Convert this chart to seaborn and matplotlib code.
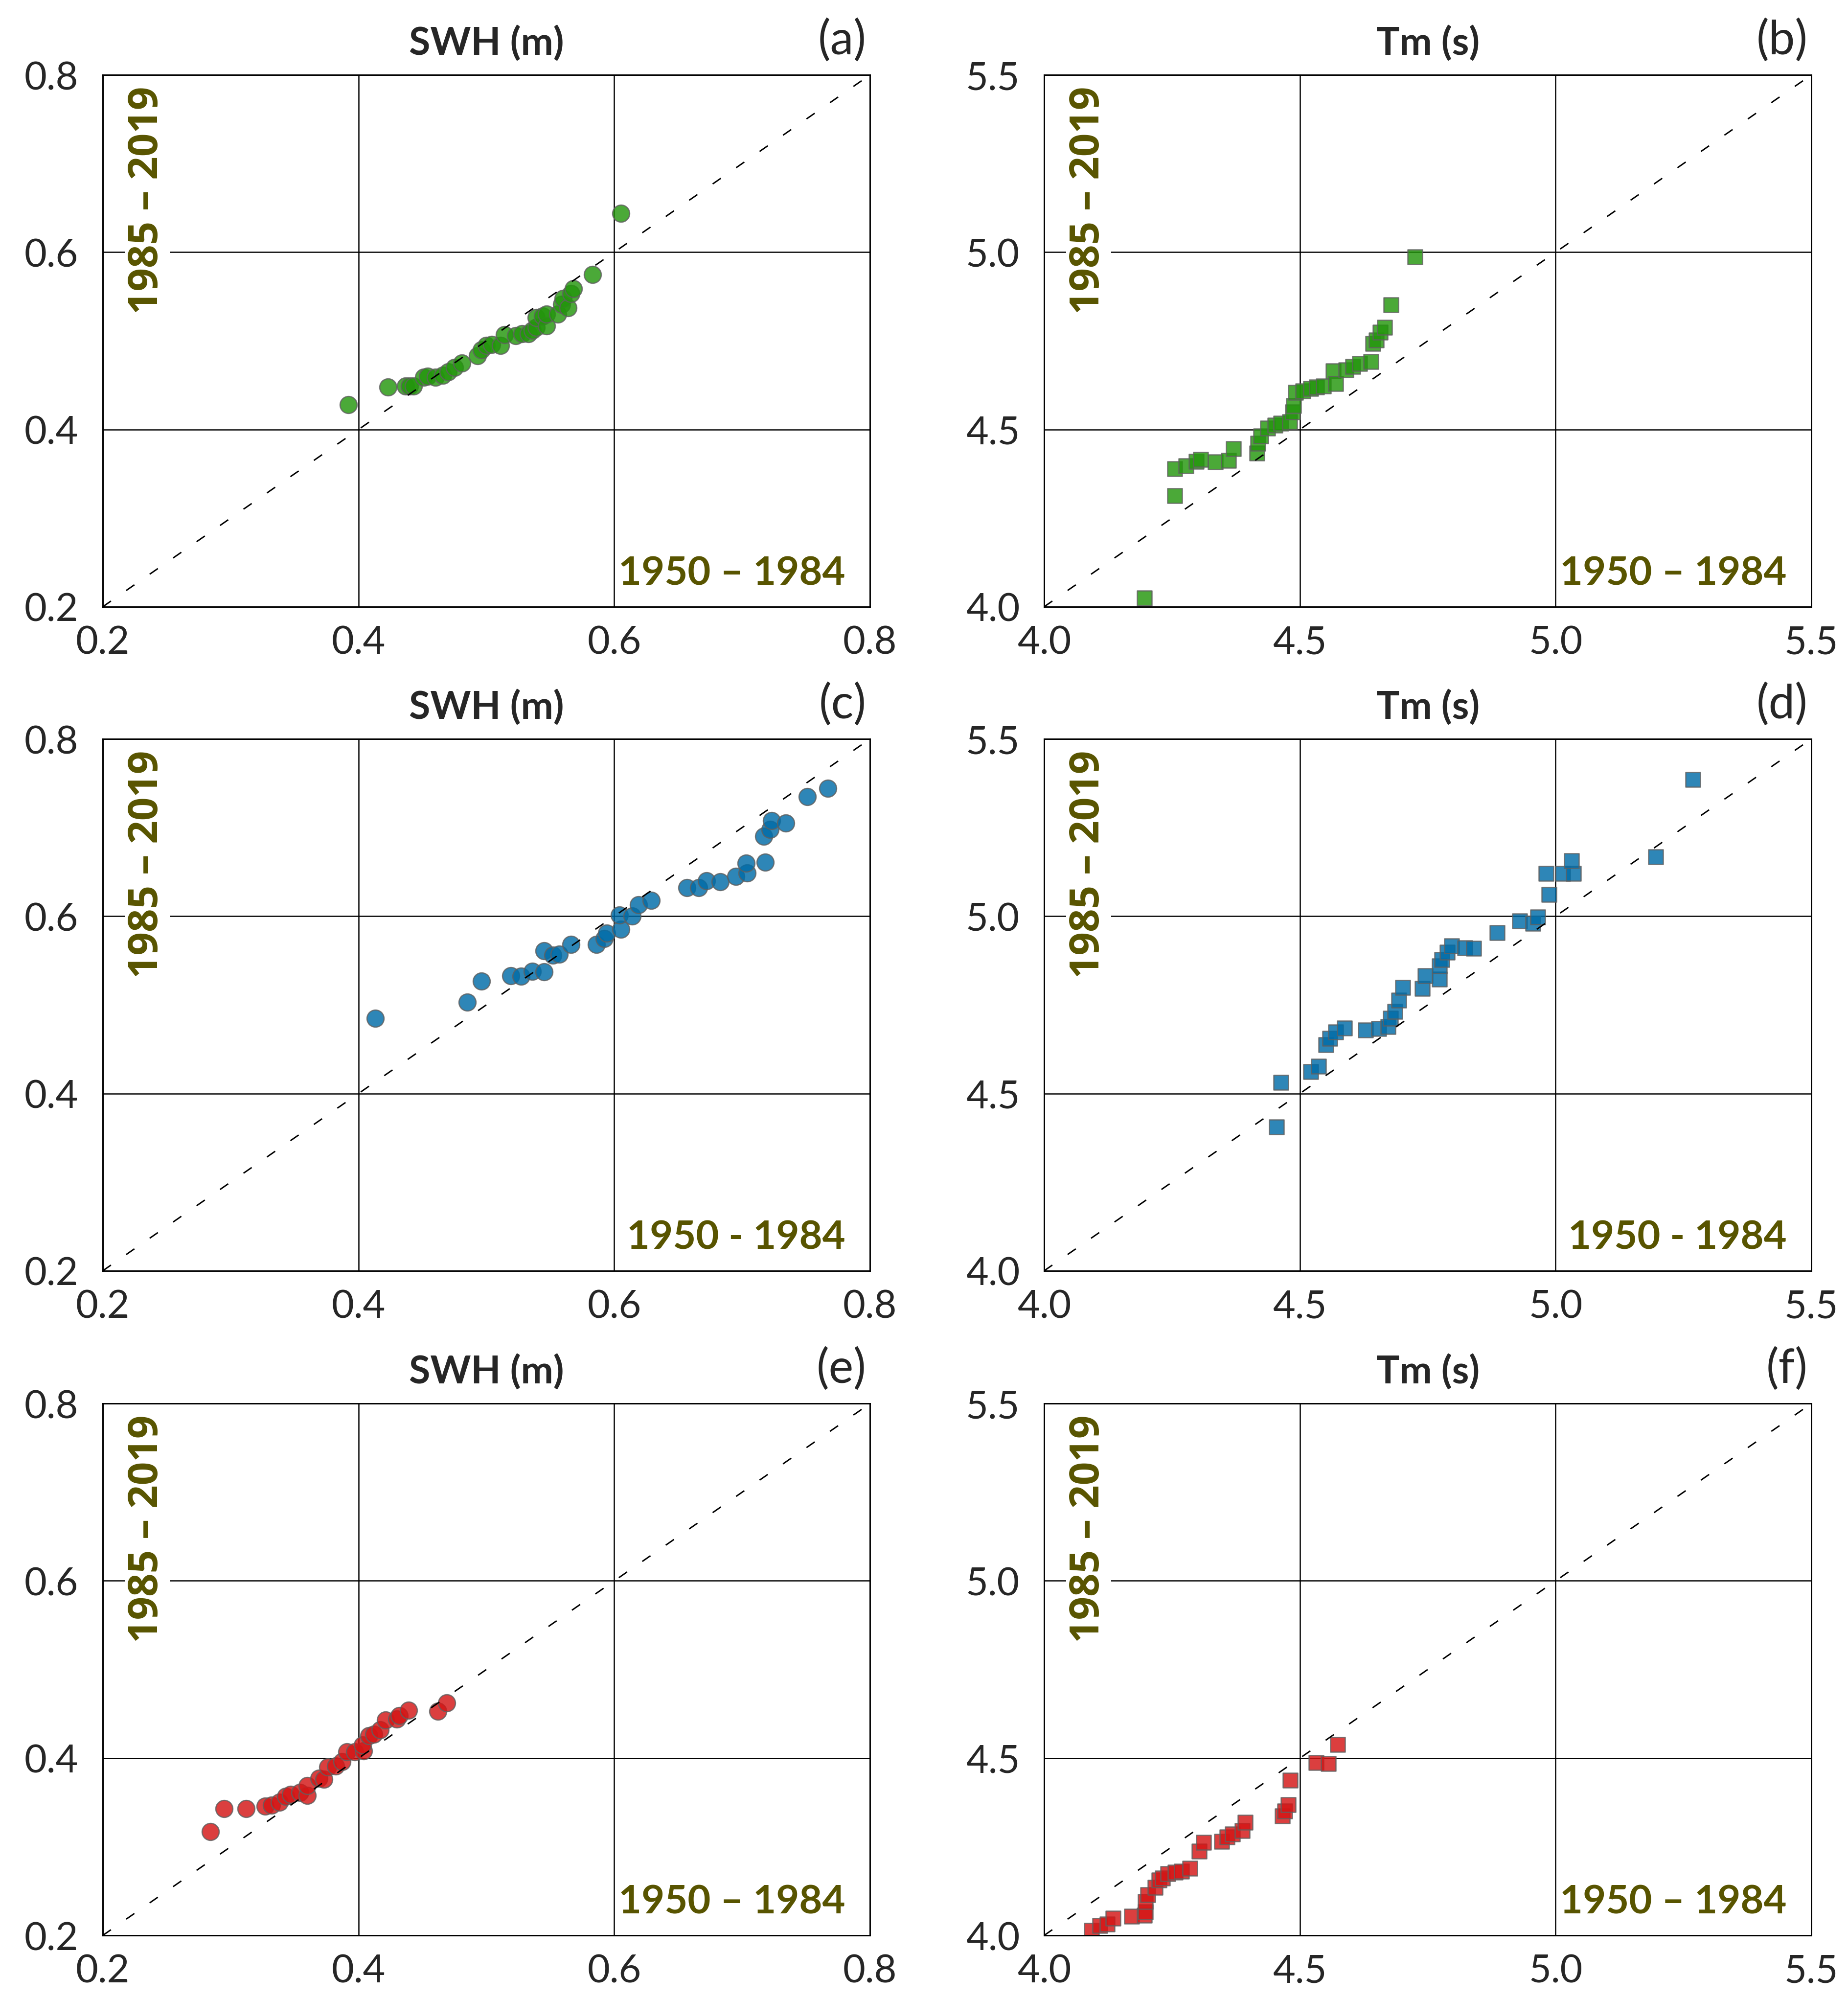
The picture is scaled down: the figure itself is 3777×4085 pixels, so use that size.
import numpy as np
import pandas as pd
import matplotlib.pyplot as plt
import seaborn as sns

# quantiles: 1950-1984 (x) vs 1985-2019 (y)
swh_a_x = [0.392, 0.423, 0.437, 0.440, 0.443, 0.451, 0.454, 0.460, 0.466, 0.470,
           0.475, 0.481, 0.493, 0.496, 0.500, 0.504, 0.511, 0.514, 0.523, 0.528,
           0.533, 0.536, 0.539, 0.539, 0.544, 0.547, 0.547, 0.556, 0.559, 0.560,
           0.564, 0.566, 0.568, 0.583, 0.605]
swh_a_y = [0.428, 0.448, 0.449, 0.449, 0.449, 0.459, 0.460, 0.459, 0.461, 0.465,
           0.470, 0.475, 0.483, 0.490, 0.495, 0.496, 0.495, 0.507, 0.506, 0.508,
           0.508, 0.512, 0.515, 0.526, 0.528, 0.517, 0.530, 0.530, 0.541, 0.548,
           0.537, 0.553, 0.559, 0.575, 0.644]

tm_b_x = [4.196, 4.255, 4.255, 4.277, 4.297, 4.306, 4.335, 4.361, 4.370, 4.416,
          4.418, 4.424, 4.437, 4.451, 4.463, 4.480, 4.486, 4.488, 4.492, 4.506,
          4.521, 4.533, 4.546, 4.565, 4.570, 4.590, 4.604, 4.617, 4.639, 4.643,
          4.649, 4.657, 4.666, 4.678, 4.725]
tm_b_y = [4.025, 4.313, 4.389, 4.397, 4.410, 4.415, 4.409, 4.413, 4.445, 4.433,
          4.461, 4.482, 4.503, 4.512, 4.517, 4.521, 4.549, 4.567, 4.605, 4.609,
          4.615, 4.620, 4.623, 4.665, 4.629, 4.668, 4.677, 4.686, 4.692, 4.743,
          4.752, 4.774, 4.788, 4.852, 4.987]

swh_c_x = [0.413, 0.485, 0.496, 0.519, 0.527, 0.536, 0.545, 0.545, 0.552, 0.557,
           0.566, 0.586, 0.592, 0.594, 0.605, 0.604, 0.614, 0.619, 0.629, 0.657,
           0.666, 0.672, 0.683, 0.695, 0.704, 0.703, 0.718, 0.717, 0.722, 0.723,
           0.734, 0.751, 0.767]
swh_c_y = [0.485, 0.503, 0.527, 0.533, 0.532, 0.538, 0.537, 0.561, 0.556, 0.557,
           0.568, 0.568, 0.575, 0.581, 0.585, 0.601, 0.600, 0.613, 0.618, 0.632,
           0.632, 0.640, 0.639, 0.645, 0.649, 0.660, 0.661, 0.690, 0.698, 0.708,
           0.705, 0.735, 0.744]

tm_d_x = [4.454, 4.463, 4.521, 4.537, 4.551, 4.559, 4.570, 4.587, 4.628, 4.654,
          4.672, 4.677, 4.686, 4.693, 4.701, 4.739, 4.745, 4.773, 4.773, 4.778,
          4.788, 4.797, 4.823, 4.840, 4.886, 4.930, 4.956, 4.965, 4.987, 4.981,
          5.014, 5.035, 5.031, 5.196, 5.268]
tm_d_y = [4.406, 4.531, 4.561, 4.577, 4.637, 4.655, 4.673, 4.685, 4.679, 4.683,
          4.688, 4.712, 4.731, 4.763, 4.799, 4.796, 4.832, 4.823, 4.859, 4.877,
          4.898, 4.916, 4.911, 4.910, 4.953, 4.986, 4.980, 4.998, 5.061, 5.120,
          5.120, 5.121, 5.157, 5.168, 5.386]

swh_e_x = [0.284, 0.295, 0.312, 0.327, 0.332, 0.338, 0.343, 0.347, 0.354, 0.360,
           0.360, 0.369, 0.373, 0.376, 0.382, 0.387, 0.391, 0.397, 0.404, 0.403,
           0.408, 0.412, 0.417, 0.421, 0.430, 0.432, 0.439, 0.462, 0.469]
swh_e_y = [0.317, 0.343, 0.343, 0.346, 0.347, 0.350, 0.357, 0.359, 0.361, 0.358,
           0.369, 0.377, 0.376, 0.390, 0.391, 0.396, 0.407, 0.407, 0.408, 0.415,
           0.425, 0.427, 0.432, 0.443, 0.444, 0.448, 0.454, 0.453, 0.462]

tm_f_x = [4.093, 4.109, 4.123, 4.135, 4.171, 4.196, 4.198, 4.198, 4.203, 4.217,
          4.225, 4.231, 4.242, 4.256, 4.269, 4.285, 4.303, 4.312, 4.347, 4.358,
          4.368, 4.387, 4.393, 4.466, 4.471, 4.477, 4.481, 4.532, 4.556, 4.574]
tm_f_y = [4.014, 4.028, 4.032, 4.048, 4.054, 4.057, 4.066, 4.096, 4.114, 4.135,
          4.156, 4.162, 4.174, 4.178, 4.181, 4.189, 4.238, 4.262, 4.265, 4.277,
          4.286, 4.295, 4.319, 4.337, 4.351, 4.369, 4.437, 4.487, 4.485, 4.539]

swh_ticks = [0.2, 0.4, 0.6, 0.8]
tm_ticks = [4.0, 4.5, 5.0, 5.5]
titles = ["SWH (m)", "Tm (s)"]
panel_letters = ["(a)", "(b)", "(c)", "(d)", "(e)", "(f)"]
x_period = ["1950 \u2013 1984", "1950 \u2013 1984", "1950 - 1984", "1950 - 1984",
            "1950 \u2013 1984", "1950 \u2013 1984"]
y_period = "1985 \u2013 2019"

row_colors = ["#23960c", "#006ca8", "#d41515"]
label_color = "#585400"

sns.set_style("white")
plt.rcParams["font.family"] = ["Lato", "DejaVu Sans"]

fig = plt.figure(figsize=(3777 / 300, 4086 / 300), dpi=300)

col_left = [0.0556, 0.565]
row_bottom = [0.6963, 0.3642, 0.0318]
ax_w, ax_h = 0.4152, 0.2660

panels = [
    (swh_a_x, swh_a_y), (tm_b_x, tm_b_y),
    (swh_c_x, swh_c_y), (tm_d_x, tm_d_y),
    (swh_e_x, swh_e_y), (tm_f_x, tm_f_y),
]

for i, (xs, ys) in enumerate(panels):
    row, col = divmod(i, 2)
    ax = fig.add_axes([col_left[col], row_bottom[row], ax_w, ax_h])
    ticks = swh_ticks if col == 0 else tm_ticks
    df = pd.DataFrame({"p1": xs, "p2": ys})

    sns.scatterplot(data=df, x="p1", y="p2", ax=ax,
                    marker="o" if col == 0 else "s",
                    s=70 if col == 0 else 50,
                    color=row_colors[row], alpha=0.82,
                    edgecolor="#606060", linewidth=0.6, zorder=2, legend=False)

    ax.axline((ticks[0], ticks[0]), slope=1, color="black", lw=0.7,
              dashes=(7, 13), zorder=3)

    ax.set_xlim(ticks[0], ticks[-1])
    ax.set_ylim(ticks[0], ticks[-1])
    ax.set_xticks(ticks)
    ax.set_yticks(ticks)
    ax.set_xticklabels([f"{t:.1f}" for t in ticks])
    ax.set_yticklabels([f"{t:.1f}" for t in ticks])
    ax.set_xlabel("")
    ax.set_ylabel("")
    ax.tick_params(axis="both", length=0, labelsize=19)
    ax.tick_params(axis="x", pad=9)
    ax.tick_params(axis="y", pad=12)
    ax.grid(True, color="black", lw=0.6)
    ax.set_axisbelow(True)
    for sp in ax.spines.values():
        sp.set_color("black")
        sp.set_linewidth(0.7)

    ax.set_title(titles[col], fontsize=19, fontweight="bold", pad=10)
    ax.text(0.995, 1.04, panel_letters[i], transform=ax.transAxes,
            ha="right", va="baseline", fontsize=23)

    ax.text(0.058, 0.765, y_period, transform=ax.transAxes, rotation=90,
            ha="center", va="center", fontsize=20, fontweight="bold",
            family=["Open Sans", "DejaVu Sans"], color=label_color, zorder=4,
            bbox=dict(facecolor="white", edgecolor="none", boxstyle="square,pad=0.05"))
    ax.text(0.968, 0.042, x_period[i], transform=ax.transAxes,
            ha="right", va="baseline", fontsize=19.5, fontweight="bold",
            color=label_color, zorder=4)

fig.savefig("out.png", dpi=300)
